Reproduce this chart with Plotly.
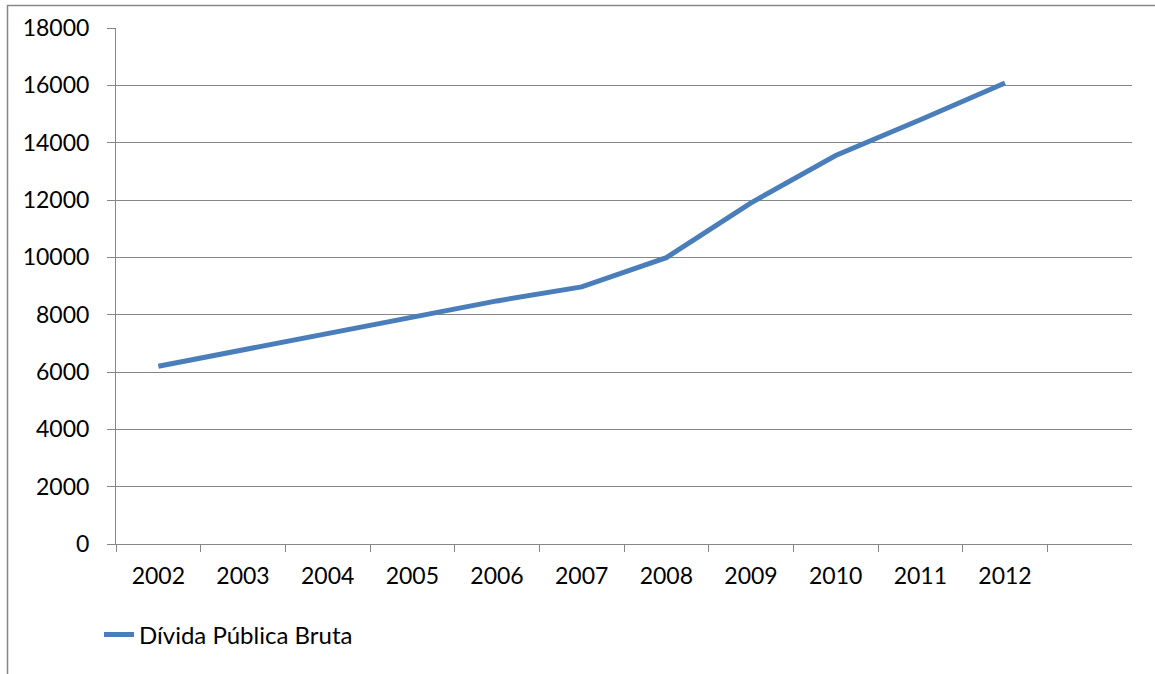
import plotly.graph_objects as go

# Dívida Pública Bruta, 2002-2012
anos = ["2002", "2003", "2004", "2005", "2006", "2007",
        "2008", "2009", "2010", "2011", "2012"]
divida = [6200, 6770, 7360, 7930, 8480, 8970, 9990, 11900, 13550, 14800, 16080]

serie_nome = "Dívida Pública Bruta"
y_ticks = list(range(0, 18001, 2000))
y_labels = [str(v) for v in y_ticks]

W, H = 1155, 674
L, R, T, B = 116, 23, 28, 130
pw, ph = W - L - R, H - T - B

grid = "#868686"
font = dict(family="Lato, Carlito, Calibri, sans-serif", size=23, color="#000000")

fig = go.Figure()
fig.add_trace(go.Scatter(
    x=anos, y=divida, mode="lines", name=serie_nome,
    line=dict(color="#4A7EBB", width=5),
))

fig.update_layout(
    width=W, height=H,
    margin=dict(l=L, r=R, t=T, b=B, pad=0),
    paper_bgcolor="white", plot_bgcolor="white",
    font=font,
    showlegend=True,
    legend=dict(
        orientation="h", x=(99 - L) / pw, xanchor="left",
        y=(H - B - 635) / ph, yanchor="middle",
        font=dict(family=font["family"], size=24, color="#000000"),
        bgcolor="rgba(0,0,0,0)",
    ),
    xaxis=dict(
        type="category", categoryorder="array", categoryarray=anos,
        range=[-0.5, 11.5], tickson="boundaries",
        showline=True, linecolor=grid, linewidth=1,
        ticks="outside", ticklen=7, tickcolor=grid, tickwidth=1,
        showgrid=False, zeroline=False, ticklabelstandoff=11,
    ),
    yaxis=dict(
        range=[0, 18000], tickvals=y_ticks, ticktext=y_labels,
        showline=True, linecolor=grid, linewidth=1,
        ticks="outside", ticklen=8, tickcolor=grid, tickwidth=1,
        showgrid=True, gridcolor=grid, gridwidth=1,
        zeroline=False, ticklabelstandoff=13,
    ),
)

# outer chart frame (top and left edges visible)
fig.add_shape(
    type="rect", xref="paper", yref="paper", layer="below",
    x0=(7.5 - L) / pw, x1=(1170 - L) / pw,
    y0=(H - B - 690) / ph, y1=(H - B - 5.5) / ph,
    line=dict(color=grid, width=1.5), fillcolor="rgba(0,0,0,0)",
)

fig.write_html("out.html")
